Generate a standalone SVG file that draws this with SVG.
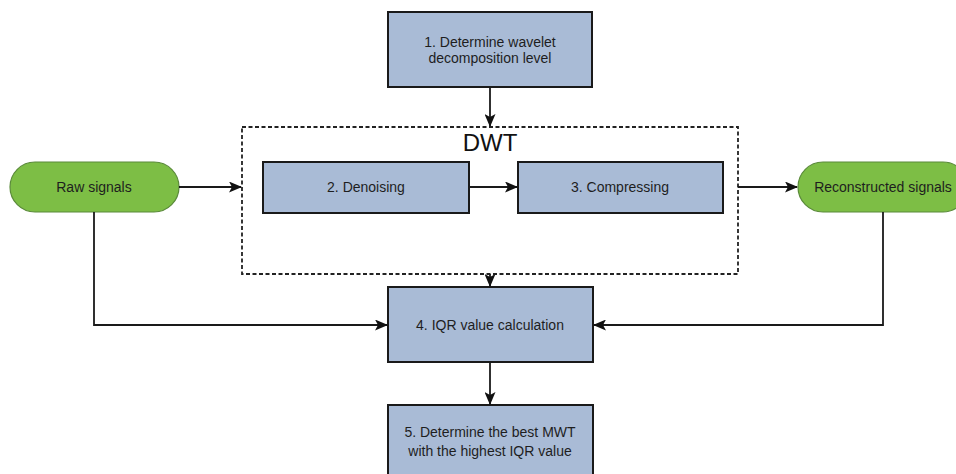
<svg xmlns="http://www.w3.org/2000/svg" width="956" height="474" viewBox="0 0 956 474">
<defs>
<style>
.box{fill:#A9BBD6;stroke:#1a1a1a;stroke-width:2}
.pill{fill:#7DBE45;stroke:#5a8a3a;stroke-width:1.2}
.t{font-family:"Liberation Sans",Arial,sans-serif;font-size:14px;fill:#1e1e1e;text-anchor:middle}
.c{fill:none;stroke:#1a1a1a;stroke-width:1.8}
</style>
<marker id="ah" markerWidth="13" markerHeight="11" refX="12" refY="5.5" orient="auto" markerUnits="userSpaceOnUse">
<path d="M0,0 L13,5.5 L0,11 L3,5.5 Z" fill="#111"/>
</marker>
</defs>
<rect width="956" height="474" fill="#fff"/>
<g id="dwt">
<rect x="242" y="127" width="496" height="147" fill="none" stroke="#222" stroke-width="1.8" stroke-dasharray="4,2.5"/>
<text x="490" y="151" font-family="'Liberation Sans',Arial,sans-serif" font-size="24" fill="#111" text-anchor="middle">DWT</text>
</g>
<g id="n1"><rect class="box" x="388" y="12" width="204" height="75"/>
<text class="t" x="490" y="47">1. Determine wavelet</text><text class="t" x="490" y="63">decomposition level</text></g>
<g id="raw"><rect class="pill" x="10" y="162" width="169" height="50" rx="25"/>
<text class="t" x="94" y="192">Raw signals</text></g>
<g id="n2"><rect class="box" x="263" y="162" width="206" height="51"/>
<text class="t" x="366" y="192">2. Denoising</text></g>
<g id="n3"><rect class="box" x="518" y="162" width="205" height="51"/>
<text class="t" x="620" y="192">3. Compressing</text></g>
<g id="rec"><rect class="pill" x="798" y="162" width="170" height="50" rx="25"/>
<text class="t" x="883" y="192">Reconstructed signals</text></g>
<g id="n4"><rect class="box" x="388" y="287" width="205" height="75"/>
<text class="t" x="490" y="330">4. IQR value calculation</text></g>
<g id="n5"><rect class="box" x="388" y="405" width="205" height="80"/>
<text class="t" x="490" y="437">5. Determine the best MWT</text><text class="t" x="490" y="456">with the highest IQR value</text></g>
<g id="connectors">
<path class="c" d="M490,87 V126" marker-end="url(#ah)"/>
<path class="c" d="M179,187 H241" marker-end="url(#ah)"/>
<path class="c" d="M469,187 H517" marker-end="url(#ah)"/>
<path class="c" d="M738,187 H797" marker-end="url(#ah)"/>
<path class="c" d="M490,274 V286" marker-end="url(#ah)"/>
<path class="c" d="M94,212 V325 H387" marker-end="url(#ah)"/>
<path class="c" d="M883,212 V325 H594" marker-end="url(#ah)"/>
<path class="c" d="M490,362 V404" marker-end="url(#ah)"/>
</g>
</svg>
